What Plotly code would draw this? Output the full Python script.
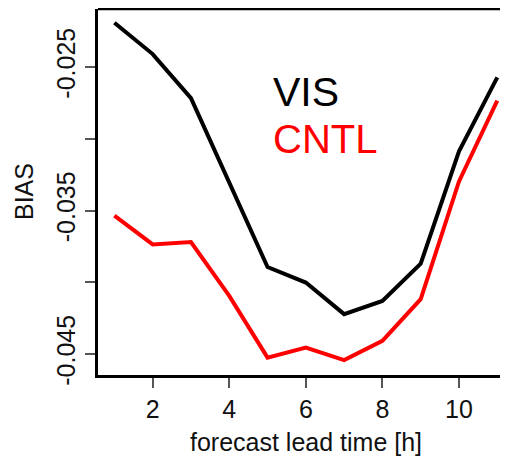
import plotly.graph_objects as go

lead_time = [1, 2, 3, 4, 5, 6, 7, 8, 9, 10, 11]
vis_bias = [-0.02192, -0.02410, -0.02717, -0.03306, -0.03894, -0.04002,
            -0.04222, -0.04130, -0.03870, -0.03088, -0.02572]
cntl_bias = [-0.03535, -0.03736, -0.03720, -0.04095, -0.04525, -0.04455,
             -0.04542, -0.04408, -0.04118, -0.03297, -0.02734]
x_ticks = [2, 4, 6, 8, 10]
y_ticks = [-0.045, -0.040, -0.035, -0.030, -0.025]
y_tick_labels = ["-0.045", "", "-0.035", "", "-0.025"]

FONT = "Liberation Sans, Arial, sans-serif"

fig = go.Figure()
fig.add_trace(go.Scatter(x=lead_time, y=vis_bias, mode="lines",
                         line=dict(color="black", width=4), name="VIS"))
fig.add_trace(go.Scatter(x=lead_time, y=cntl_bias, mode="lines",
                         line=dict(color="#FF0000", width=4), name="CNTL"))

# the page body adds an 8px offset, so the figure is 8px smaller than the window
fig.update_layout(
    width=500, height=448,
    margin=dict(l=90, r=0, t=1, b=81, autoexpand=False),
    plot_bgcolor="white", paper_bgcolor="white",
    showlegend=False,
    font=dict(family=FONT, size=25, color="#111"),
)
fig.update_xaxes(
    range=[0.572, 11.28], tickvals=x_ticks, ticktext=[str(v) for v in x_ticks],
    automargin=False,
    showgrid=False, zeroline=False, showline=True, linecolor="black", linewidth=2.5,
    ticks="outside", ticklen=10, tickwidth=1.5, tickcolor="#555",
    tickfont=dict(size=25),
)
fig.update_yaxes(
    range=[-0.04646, -0.02096], tickvals=y_ticks, ticktext=y_tick_labels,
    tickangle=-90, automargin=False,
    showgrid=False, zeroline=False, showline=True, linecolor="black", linewidth=2.5,
    ticks="outside", ticklen=10, tickwidth=1.5, tickcolor="#555",
    tickfont=dict(size=25),
)
# top frame line (right side of the box is cut off by the picture edge)
fig.add_shape(type="line", xref="paper", yref="paper", x0=0, x1=1, y0=1, y1=1,
              line=dict(color="black", width=2.5))

fig.add_annotation(text="BIAS", xref="paper", yref="paper", x=0, y=0.5,
                   xanchor="center", yanchor="middle", xshift=-74, textangle=-90,
                   showarrow=False, font=dict(size=25, color="#111"))
fig.add_annotation(text="forecast lead time [h]", xref="paper", yref="paper",
                   x=0.5063, y=0, xanchor="center", yanchor="middle", yshift=-67,
                   showarrow=False, font=dict(size=25, color="#111"))
fig.add_annotation(text="VIS", x=5.10, y=-0.02675, xanchor="left", yanchor="middle",
                   showarrow=False, font=dict(size=41, color="black"))
fig.add_annotation(text="CNTL", x=5.10, y=-0.03005, xanchor="left", yanchor="middle",
                   showarrow=False, font=dict(size=40, color="#FF0000"))

fig.write_html("out.html")
